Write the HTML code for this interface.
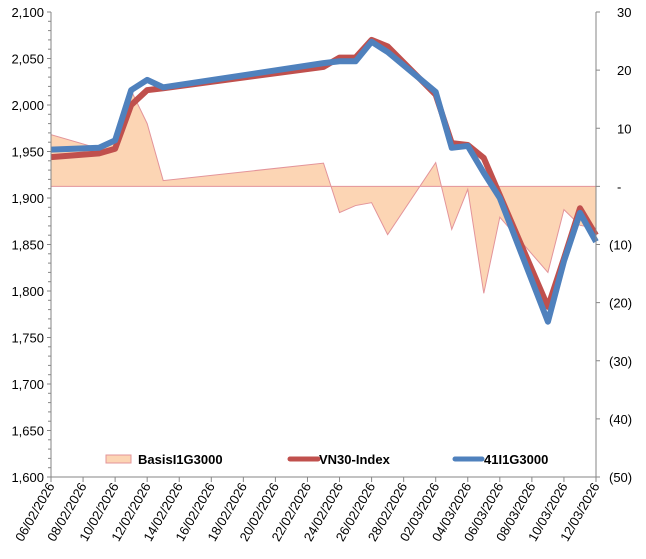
<!DOCTYPE html>
<html><head><meta charset="utf-8"><style>
body{margin:0;background:#fff}
svg{font-family:"Liberation Sans",sans-serif;font-size:13px;fill:#000}
</style></head><body>
<svg width="646" height="554" id="c"></svg>
<script>
const dates=["06/02/2026","09/02/2026","10/02/2026","11/02/2026","12/02/2026","13/02/2026","23/02/2026","24/02/2026","25/02/2026","26/02/2026","27/02/2026","02/03/2026","03/03/2026","04/03/2026","05/03/2026","06/03/2026","09/03/2026","10/03/2026","11/03/2026","12/03/2026"];
const vn30=[1944,1948,1953,2000,2016,2018,2041,2051,2051,2070,2063,2011,1959,1957,1943,1903,1783,1835,1889,1860];
const fut=[1952,1954,1962,2016,2027,2019,2045,2047,2047,2068,2057,2014,1954,1956,1927,1900,1767,1832,1884,1853];
const basis=[8.9,6.5,7.9,16.5,10.8,1.0,4.0,-4.5,-3.3,-2.8,-8.3,4.1,-7.4,-0.5,-18.4,-5.3,-14.8,-4.0,-6.7,-7.2];
const leftTicks=[1600,1650,1700,1750,1800,1850,1900,1950,2000,2050,2100];
const rightTicks=[30,20,10,0,-10,-20,-30,-40,-50];
const xLabelDays=[0,2,4,6,8,10,12,14,16,18,20,22,24,26,28,30,32,34];

const svg=document.getElementById('c');const NS='http://www.w3.org/2000/svg';
const X0=51,X1=596,Y0=12,Y1=477;
const start=Date.UTC(2026,1,6);
function dayIdx(s){const[p,q,r]=s.split('/').map(Number);return (Date.UTC(r,q-1,p)-start)/864e5;}
const xs=d=>X0+d*(X1-X0)/34;
const yL=v=>Y1-(v-1600)*(Y1-Y0)/500;
const yR=v=>Y1-(v+50)*(Y1-Y0)/80;
function el(t,a,p){const e=document.createElementNS(NS,t);for(const k in a)e.setAttribute(k,a[k]);(p||svg).appendChild(e);return e;}
function fmt(v){return v.toLocaleString('en-US');}
function fmtR(v){return v===0?'-':v<0?'('+(-v)+')':String(v);}

let pts=dates.map((d,i)=>xs(dayIdx(d))+','+yR(basis[i]));
const z=yR(0);
const area=el('polygon',{points:xs(dayIdx(dates[0]))+','+z+' '+pts.join(' ')+' '+xs(dayIdx(dates[dates.length-1]))+','+z,fill:'#fcd5b4',stroke:'#e3949a','stroke-width':1});

function line(vals,col,name){const p=el('polyline',{points:dates.map((d,i)=>xs(dayIdx(d))+','+yL(vals[i])).join(' '),fill:'none',stroke:col,'stroke-width':6,'stroke-linejoin':'round'});}
line(vn30,'#c0504d','vn30-line');
line(fut,'#4f81bd','futures-line');

const ax=el('g',{stroke:'#868686','stroke-width':1,fill:'none'});

el('line',{x1:X0,y1:Y0,x2:X0,y2:Y1},ax);
el('line',{x1:X1,y1:Y0,x2:X1,y2:Y1},ax);
el('line',{x1:X0,y1:Y1,x2:X1,y2:Y1},ax);
for(let v=1600;v<=2100;v+=10)el('line',{x1:X0-(v%50?3:4),y1:yL(v),x2:X0,y2:yL(v)},ax);
rightTicks.forEach(v=>el('line',{x1:X1,y1:yR(v),x2:X1+4,y2:yR(v)},ax));
xLabelDays.forEach(d=>el('line',{x1:xs(d),y1:Y1,x2:xs(d),y2:Y1+5},ax));
leftTicks.forEach(v=>{const t=el('text',{x:44,y:yL(v)+5,'text-anchor':'end'});t.textContent=fmt(v);});
rightTicks.forEach(v=>{const t=el('text',{x:v===0?617:(v<0?609:617),y:yR(v)+5,'text-anchor':'start'});t.textContent=fmtR(v);});
xLabelDays.forEach(d=>{const dt=new Date(start+d*864e5);const s=String(dt.getUTCDate()).padStart(2,'0')+'/'+String(dt.getUTCMonth()+1).padStart(2,'0')+'/'+dt.getUTCFullYear();const x=xs(d)+4,y=Y1+9;const t=el('text',{x:x,y:y,'text-anchor':'end',transform:'rotate(-60 '+x+' '+y+')'});t.textContent=s;});

const lg=el('g',{'font-weight':'bold'});
el('rect',{x:106,y:455,width:25,height:8,fill:'#fcd5b4',stroke:'#e3949a'},lg);
let t=el('text',{x:138,y:464},lg);t.textContent='BasisI1G3000';
el('line',{x1:290,y1:459,x2:318,y2:459,stroke:'#c0504d','stroke-width':5,'stroke-linecap':'round'},lg);
t=el('text',{x:319,y:464},lg);t.textContent='VN30-Index';
el('line',{x1:455,y1:459,x2:482,y2:459,stroke:'#4f81bd','stroke-width':5,'stroke-linecap':'round'},lg);
t=el('text',{x:484,y:464},lg);t.textContent='41I1G3000';
</script>
</body></html>
